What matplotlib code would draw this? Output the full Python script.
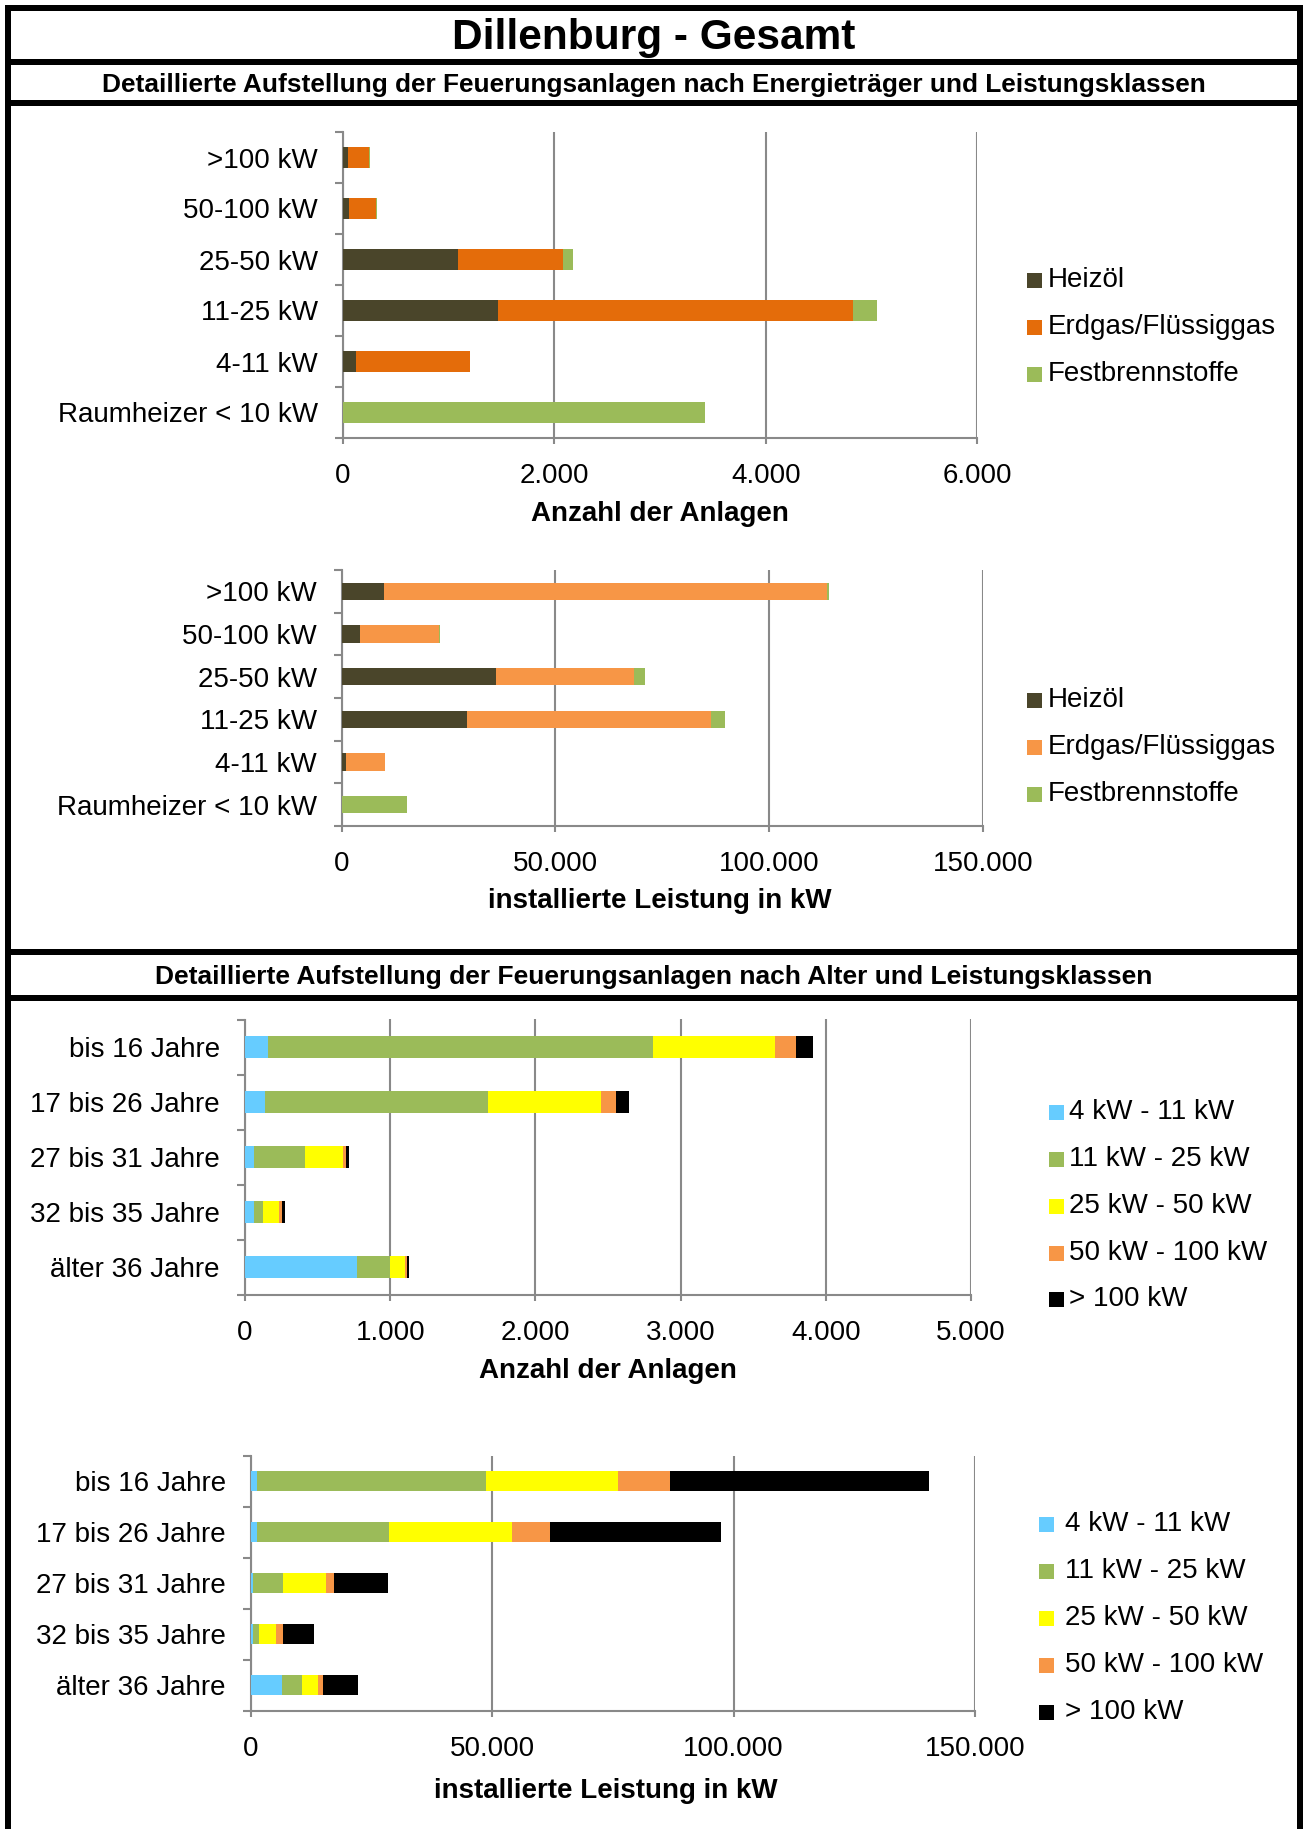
import matplotlib
matplotlib.use("Agg")
import matplotlib.pyplot as plt
from matplotlib.ticker import FuncFormatter, FixedLocator
from matplotlib.patches import Rectangle
import numpy as np

plt.rcParams['font.family'] = ['Liberation Sans', 'DejaVu Sans']

# ---------------- data ----------------
cats_kw = [">100 kW", "50-100 kW", "25-50 kW", "11-25 kW", "4-11 kW", "Raumheizer < 10 kW"]
energy_series = ["Heizöl", "Erdgas/Flüssiggas", "Festbrennstoffe"]

anz_heizoel = [48, 56, 1088, 1467, 124, 0]
anz_erdgas = [203, 255, 993, 3361, 1080, 0]
anz_fest = [3, 8, 92, 227, 0, 3421]

leist_heizoel = [9825, 4180, 36050, 29260, 1045, 0]
leist_erdgas = [103700, 18600, 32400, 57160, 9090, 0]
leist_fest = [400, 300, 2600, 3350, 0, 15360]

cats_age = ["bis 16 Jahre", "17 bis 26 Jahre", "27 bis 31 Jahre", "32 bis 35 Jahre", "älter 36 Jahre"]
class_series = ["4 kW - 11 kW", "11 kW - 25 kW", "25 kW - 50 kW", "50 kW - 100 kW", "> 100 kW"]

age_anz_4_11 = [159, 140, 62, 62, 771]
age_anz_11_25 = [2654, 1532, 348, 65, 227]
age_anz_25_50 = [839, 777, 266, 110, 101]
age_anz_50_100 = [146, 107, 20, 17, 17]
age_anz_100 = [114, 88, 23, 19, 16]

age_kw_4_11 = [1305, 1204, 500, 500, 6420]
age_kw_11_25 = [47460, 27490, 6220, 1200, 4120]
age_kw_25_50 = [27390, 25490, 8830, 3520, 3410]
age_kw_50_100 = [10640, 7830, 1610, 1500, 1100]
age_kw_100 = [53590, 35320, 11240, 6320, 7120]

colors_energy1 = ["#4A452A", "#E46C0A", "#9BBB59"]
colors_energy2 = ["#4A452A", "#F79646", "#9BBB59"]
colors_class = ["#66CCFF", "#9BBB59", "#FFFF00", "#F79646", "#000000"]

# ---------------- layout ----------------
W, H = 1306, 1829
fig = plt.figure(figsize=(W / 100, H / 100), dpi=100)
fig.patch.set_facecolor("white")

ov = fig.add_axes([0, 0, 1, 1], zorder=0)
ov.set_xlim(0, W)
ov.set_ylim(H, 0)
ov.axis("off")

FS = 20
GRID = "#898989"


def de_fmt(v, pos=None):
    return f"{int(round(v)):,}".replace(",", ".")


def make_axes(left, right, top, bottom):
    return fig.add_axes([left / W, 1 - bottom / H, (right - left) / W, (bottom - top) / H], zorder=2)


def stacked(ax, cats, series_vals, colors, xmax, step):
    n = len(cats)
    y = np.arange(n)
    left = np.zeros(n)
    for vals, c in zip(series_vals, colors):
        v = np.array(vals, dtype=float)
        ax.barh(y, v, left=left, height=0.4, color=c, edgecolor="none", zorder=3)
        left += v
    ax.set_ylim(n - 0.5, -0.5)
    ax.set_xlim(0, xmax)
    ax.set_yticks(y)
    ax.set_yticklabels(cats, fontsize=FS)
    ax.yaxis.set_minor_locator(FixedLocator(np.arange(-0.5, n, 1.0)))
    ax.tick_params(axis="y", which="major", length=0, pad=18)
    ax.tick_params(axis="y", which="minor", length=6, width=1.5, color=GRID, direction="out")
    ax.set_xticks(np.arange(0, xmax + 1, step))
    ax.xaxis.set_major_formatter(FuncFormatter(de_fmt))
    ax.tick_params(axis="x", which="major", length=4, width=1.5, color=GRID, labelsize=FS, pad=14)
    ax.grid(axis="x", color=GRID, linewidth=1.5, zorder=0)
    ax.set_axisbelow(True)
    for s in ["top", "right"]:
        ax.spines[s].set_visible(False)
    for s in ["left", "bottom"]:
        ax.spines[s].set_color(GRID)
        ax.spines[s].set_linewidth(1.5)
    ax.set_facecolor("none")


def legend(items, colors, sq_x, txt_x, ys):
    for lab, c, yy in zip(items, colors, ys):
        ov.add_patch(Rectangle((sq_x - 7.5, yy - 7.5), 15, 15, facecolor=c, edgecolor="none"))
        ov.text(txt_x, yy, lab, fontsize=FS, ha="left", va="center")


# chart 1
ax1 = make_axes(342.8, 977.2, 132, 438)
stacked(ax1, cats_kw, [anz_heizoel, anz_erdgas, anz_fest], colors_energy1, 6000, 2000)
ov.text(660, 514, "Anzahl der Anlagen", fontsize=FS, fontweight="bold", ha="center", va="center")
legend(energy_series, colors_energy1, 1034, 1048, [280, 327, 374])

# chart 2
ax2 = make_axes(341.7, 983, 570, 826)
stacked(ax2, cats_kw, [leist_heizoel, leist_erdgas, leist_fest], colors_energy2, 150000, 50000)
ov.text(660, 901, "installierte Leistung in kW", fontsize=FS, fontweight="bold", ha="center", va="center")
legend(energy_series, colors_energy2, 1034, 1048, [700, 747, 794])

# chart 3
ax3 = make_axes(245, 971, 1019.5, 1295)
stacked(ax3, cats_age, [age_anz_4_11, age_anz_11_25, age_anz_25_50, age_anz_50_100, age_anz_100],
        colors_class, 5000, 1000)
ov.text(608, 1371, "Anzahl der Anlagen", fontsize=FS, fontweight="bold", ha="center", va="center")
legend(class_series, colors_class, 1056, 1069, [1112, 1159, 1206, 1253, 1299])

# chart 4
ax4 = make_axes(250.7, 975, 1455.5, 1710.5)
stacked(ax4, cats_age, [age_kw_4_11, age_kw_11_25, age_kw_25_50, age_kw_50_100, age_kw_100],
        colors_class, 150000, 50000)
ov.text(606, 1791, "installierte Leistung in kW", fontsize=FS, fontweight="bold", ha="center", va="center")
legend(class_series, colors_class, 1046, 1065, [1524, 1571, 1618, 1665, 1712])

# ---------------- frame & headings ----------------
LW = 6 * 72 / 100
for yy in [8, 62, 102.5, 952, 998]:
    ov.plot([5, 1303], [yy, yy], color="black", linewidth=LW, solid_capstyle="butt")
for xx in [8, 1300]:
    ov.plot([xx, xx], [5, H + 5], color="black", linewidth=LW, solid_capstyle="butt")

ov.text(654, 38, "Dillenburg - Gesamt", fontsize=30.5, fontweight="bold", ha="center", va="center")
ov.text(654, 85, "Detaillierte Aufstellung der Feuerungsanlagen nach Energieträger und Leistungsklassen",
        fontsize=18.9, fontweight="bold", ha="center", va="center")
ov.text(654, 977, "Detaillierte Aufstellung der Feuerungsanlagen nach Alter und Leistungsklassen",
        fontsize=19, fontweight="bold", ha="center", va="center")

fig.savefig("out.png", dpi=100)
